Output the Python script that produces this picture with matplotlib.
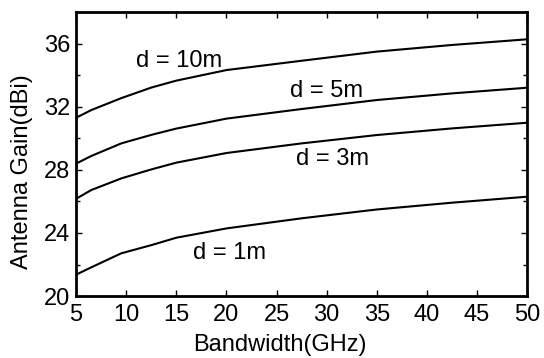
import matplotlib
matplotlib.use("Agg")
import matplotlib.pyplot as plt
from matplotlib.ticker import MultipleLocator

plt.rcParams['font.family'] = ['Liberation Sans', 'DejaVu Sans']

bandwidth = [5, 6.5, 9.5, 12.5, 15, 20, 27.5, 35, 42.5, 50]
g10 = [31.31, 31.79, 32.55, 33.22, 33.66, 34.33, 34.92, 35.50, 35.92, 36.28]
g5 = [28.40, 28.88, 29.68, 30.22, 30.62, 31.25, 31.86, 32.43, 32.85, 33.21]
g3 = [26.17, 26.72, 27.46, 28.03, 28.46, 29.07, 29.68, 30.21, 30.63, 30.99]
g1 = [21.36, 21.82, 22.71, 23.23, 23.70, 24.29, 24.93, 25.49, 25.92, 26.30]

labels = ["d = 10m", "d = 5m", "d = 3m", "d = 1m"]
label_x = [15.23, 29.95, 30.55, 20.3]
label_y = [34.5, 32.64, 28.31, 22.33]

fig = plt.figure(figsize=(5.44, 3.58), dpi=100)
ax = fig.add_axes([0.14, 0.173, 0.829, 0.793])

for ys in [g10, g5, g3, g1]:
    ax.plot(bandwidth, ys, color='black', lw=1.5)

for t, lx, ly in zip(labels, label_x, label_y):
    ax.text(lx, ly, t, fontsize=17, ha='center', va='baseline')

ax.set_xlim(5, 50)
ax.set_ylim(20, 38)
ax.set_xticks(range(5, 51, 5))
ax.set_yticks([20, 24, 28, 32, 36])
ax.yaxis.set_minor_locator(MultipleLocator(2))
ax.tick_params(which='both', direction='in', top=True, right=True, labelsize=17)
ax.tick_params(which='major', length=4, width=1)
ax.tick_params(which='minor', length=3, width=1)
ax.tick_params(axis='x', pad=6)
ax.tick_params(axis='y', pad=4)
for s in ax.spines.values():
    s.set_linewidth(2)

ax.set_xlabel("Bandwidth(GHz)", fontsize=17)
ax.set_ylabel("Antenna Gain(dBi)", fontsize=17)
ax.xaxis.set_label_coords(0.452, -0.173)
ax.xaxis.label.set_va('center')
ax.yaxis.set_label_coords(-0.12, 0.44)
ax.yaxis.label.set_va('center')

fig.savefig("out.png", dpi=100)
